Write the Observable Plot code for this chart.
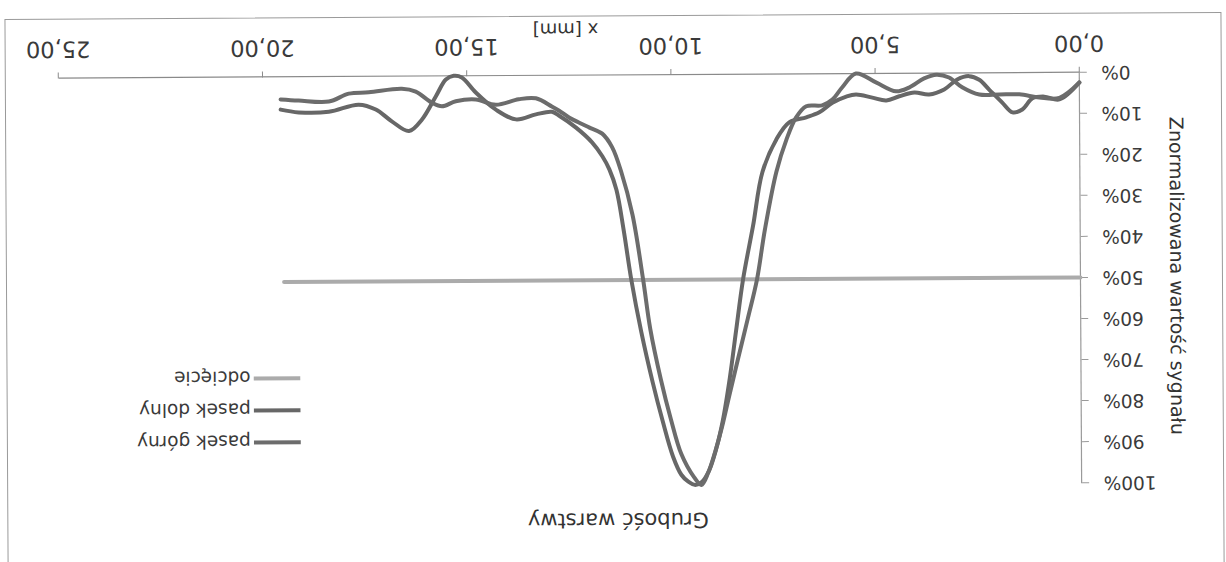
<!DOCTYPE html>
<html>
<head>
<meta charset="utf-8">
<script src="https://cdn.jsdelivr.net/npm/d3@7"></script>
<script src="https://cdn.jsdelivr.net/npm/@observablehq/plot@0.6"></script>
<style>
  html, body { margin: 0; padding: 0; background: #ffffff; width: 1226px; height: 562px; overflow: hidden; }
  #fig { position: relative; width: 1226px; height: 562px; transform: translate(0px, 4.4px) rotate(179.67deg); transform-origin: 613px 281px; font-family: "DejaVu Sans", sans-serif; color: #3a3a3a; }
  #title { position: absolute; left: 0; top: 34px; width: 1218px; text-align: center; font-size: 21px; line-height: 24px; color: #333; }
  #chart { position: absolute; left: 0; top: 70px; }
  #legend { position: absolute; left: 926px; top: 110px; font-size: 18.5px; color: #3a3a3a; }
  #legend .row { display: flex; align-items: center; height: 32px; }
  #legend svg { margin-right: 3px; }
  #border { position: absolute; left: 3px; top: -10px; width: 1215px; height: 559px; border: 1px solid #9a9a9a; pointer-events: none; }
</style>
</head>
<body>
<div id="fig">
  <div id="border"></div>
  <div id="title"></div>
  <div id="chart"></div>
  <div id="legend"></div>
</div>
<script>
// ---- data (x in mm, y in % of normalized signal) ----
const chartTitle = "Grubość warstwy";
const xLabel = "x [mm]";
const yLabel = "Znormalizowana wartość sygnału";
const xTicks = [0, 5, 10, 15, 20, 25];
const yTicks = [0, 10, 20, 30, 40, 50, 60, 70, 80, 90, 100];
const seriesNames = ["pasek górny", "pasek dolny", "odcięcie"];
const seriesColors = ["#6c6c6c", "#676767", "#ababab"];

const pasekGorny = [
  [0.00,2.5],[0.49,6.2],[0.98,6.1],[1.47,5.3],[1.96,5.3],[2.45,5.3],[2.87,3.5],[3.19,1.1],
  [3.50,0.4],[3.80,1.3],[4.17,3.5],[4.49,4.4],[4.98,2.2],[5.47,0.0],[5.81,3.4],[6.05,6.3],
  [6.30,7.7],[6.69,7.9],[6.94,10.6],[7.18,16.0],[7.43,23.8],[7.72,37.9],[7.92,50.0],[8.15,59.5],
  [8.40,69.5],[8.62,78.5],[8.80,86.0],[8.97,92.0],[9.14,97.0],[9.31,100],[9.49,98.1],[9.80,92.4],
  [10.05,83.9],[10.29,74.2],[10.54,62.0],[10.71,49.8],[10.96,34.1],[11.23,23.6],[11.45,17.6],
  [11.69,14.3],[12.00,12.8],[12.25,11.6],[12.50,10.3],[12.75,8.6],[12.92,7.6],[13.31,5.6],
  [13.73,5.8],[14.29,7.1],[14.78,5.8],[15.27,6.2],[15.61,7.4],[15.86,6.5],[16.25,3.8],
  [16.59,3.1],[17.40,3.9],[17.89,4.2],[18.38,6.1],[19.12,5.8],[19.56,5.5]
];

const pasekDolny = [
  [0.00,2.5],[0.49,6.6],[0.86,5.9],[1.15,6.3],[1.40,9.0],[1.64,9.7],[1.89,7.3],[2.21,4.1],
  [2.45,1.7],[2.70,0.8],[2.99,1.6],[3.31,4.0],[3.68,5.2],[4.04,4.7],[4.41,5.6],[4.73,6.6],
  [5.07,5.9],[5.47,5.1],[5.71,5.6],[6.05,7.1],[6.37,9.4],[6.69,10.6],[7.11,11.8],[7.43,16.0],
  [7.77,23.8],[8.01,37.0],[8.26,49.9],[8.44,62.5],[8.60,74.0],[8.78,84.5],[8.95,91.5],[9.12,96.5],
  [9.30,99.3],[9.46,100],[9.63,99.2],[9.80,97.5],[10.00,93.1],[10.25,84.4],[10.49,74.9],
  [10.76,62.7],[11.00,49.8],[11.18,37.7],[11.35,28.0],[11.52,23.0],[11.69,19.8],[11.94,16.4],
  [12.33,12.8],[12.75,9.8],[12.92,8.9],[13.31,9.5],[13.80,10.7],[14.29,8.3],[14.78,4.1],
  [15.12,0.4],[15.32,0.0],[15.51,0.9],[15.76,5.0],[16.10,10.6],[16.42,13.4],[16.84,11.0],
  [17.23,8.1],[17.65,6.9],[18.38,8.6],[19.12,8.7],[19.56,8.0]
];

const odciecie = [[0.00,50],[19.50,50]];

// ---- build ----
const toRows = (arr) => arr.map(([x, y]) => ({x, y}));
const rowsG = toRows(pasekGorny);
const rowsD = toRows(pasekDolny);
const rowsC = toRows(odciecie);

document.getElementById("title").textContent = chartTitle;

const plot = Plot.plot({
  width: 1226,
  height: 492,
  marginLeft: 145,
  marginRight: 60,
  marginTop: 10.5,
  marginBottom: 71,
  x: {domain: [0, 25]},
  y: {domain: [0, 100]},
  style: {fontFamily: "DejaVu Sans", background: "transparent", color: "#3a3a3a", overflow: "visible"},
  marks: [
    Plot.ruleY([0], {stroke: "#8a8a8a", strokeWidth: 1.2}),
    Plot.ruleX([0], {stroke: "#9a9a9a", strokeWidth: 1.2}),
    Plot.axisX({ticks: xTicks, tickFormat: d => d.toFixed(2).replace(".", ","), tickSize: 6, tickPadding: 14.5,
      fontSize: 22.5, label: null, stroke: "#8a8a8a", fill: "#3a3a3a"}),
    Plot.axisY({ticks: yTicks, tickFormat: d => d + "%", tickSize: 7, tickPadding: 15,
      fontSize: 18.5, label: null, stroke: "#9a9a9a", fill: "#3a3a3a"}),
    Plot.line(rowsC, {x: "x", y: "y", stroke: seriesColors[2], strokeWidth: 4}),
    Plot.line(rowsD, {x: "x", y: "y", stroke: seriesColors[1], strokeWidth: 4, curve: "catmull-rom"}),
    Plot.line(rowsG, {x: "x", y: "y", stroke: seriesColors[0], strokeWidth: 4, curve: "catmull-rom"}),
    Plot.text([yLabel], {text: d => d, frameAnchor: "left", dx: -96, dy: 1, rotate: -90,
      textAnchor: "middle", lineAnchor: "middle", fontSize: 19, fill: "#333"}),
    Plot.text([xLabel], {text: d => d, frameAnchor: "bottom", dx: 3, dy: 46,
      textAnchor: "middle", lineAnchor: "middle", fontSize: 18, fill: "#333"})
  ]
});
document.getElementById("chart").appendChild(plot);

// legend
const legend = document.getElementById("legend");
seriesNames.forEach((name, i) => {
  const row = document.createElement("div");
  row.className = "row";
  row.innerHTML = `<svg width="47" height="8"><line x1="0" y1="4" x2="47" y2="4" stroke="${seriesColors[i]}" stroke-width="4"/></svg><span>${name}</span>`;
  legend.appendChild(row);
});
</script>
</body>
</html>
